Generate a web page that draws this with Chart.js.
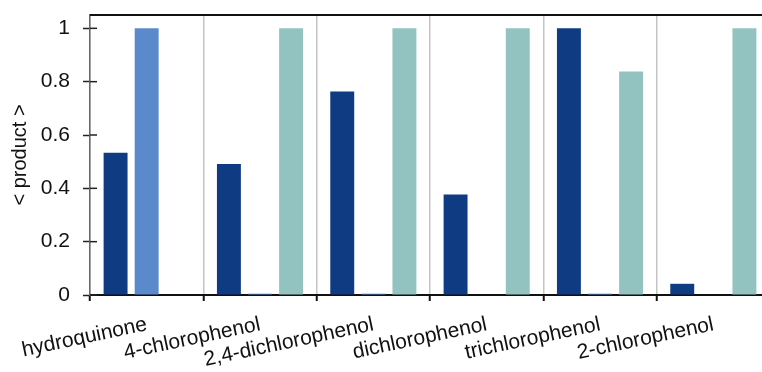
<!DOCTYPE html>
<html>
<head>
<meta charset="utf-8">
<script src="https://cdn.jsdelivr.net/npm/chart.js@4/dist/chart.umd.min.js"></script>
<style>
  html, body { margin: 0; padding: 0; background: #fff; overflow: hidden; }
  #wrap { width: 770px; height: 372px; }
</style>
</head>
<body>
<div id="wrap"><canvas id="chart" width="770" height="372"></canvas></div>
<script>
// categories and values
const categories = ['hydroquinone', '4-chlorophenol', '2,4-dichlorophenol', 'dichlorophenol', 'trichlorophenol', '2-chlorophenol'];
const seriesA = [0.533, 0.491, 0.763, 0.377, 1.0, 0.042];
const seriesB = [1.0, 0.005, 0.005, 0, 0.005, 0];
const seriesC = [0, 1.0, 1.0, 1.0, 0.838, 1.0];
const yTicks = [0, 0.2, 0.4, 0.6, 0.8, 1];

// top border + small inward tick marks on the y axis
const framePlugin = {
  id: 'frame',
  afterDraw(chart) {
    const { ctx, chartArea } = chart;
    const y = chart.scales.y;
    ctx.save();
    ctx.strokeStyle = '#111';
    ctx.lineWidth = 2;
    ctx.beginPath();
    ctx.moveTo(chartArea.left, chartArea.top);
    ctx.lineTo(chartArea.right, chartArea.top);
    ctx.stroke();
    ctx.lineWidth = 1.5;
    ctx.strokeStyle = '#222';
    y.ticks.forEach(t => {
      const py = y.getPixelForValue(t.value);
      ctx.beginPath();
      ctx.moveTo(chartArea.left, py);
      ctx.lineTo(chartArea.left + 7, py);
      ctx.stroke();
    });
    ctx.restore();
  }
};

new Chart(document.getElementById('chart'), {
  type: 'bar',
  data: {
    labels: categories,
    datasets: [
      { data: seriesA, backgroundColor: '#0e3b82' },
      { data: seriesB, backgroundColor: '#5a8acb' },
      { data: seriesC, backgroundColor: '#93c3c0' }
    ]
  },
  options: {
    responsive: false,
    animation: false,
    devicePixelRatio: 1,
    layout: { padding: { top: 15, left: 0, right: 0, bottom: 0 } },
    categoryPercentage: 0.823,
    barPercentage: 0.77,
    plugins: { legend: { display: false }, tooltip: { enabled: false } },
    scales: {
      x: {
        afterFit(scale) {
          scale.height = 77;
          scale.paddingLeft = 0;
          scale.paddingRight = 0;
        },
        grid: { offset: true, color: '#c4c4c4', lineWidth: 1.5, tickLength: 6, tickColor: '#111', tickWidth: 2 },
        border: { color: '#111', width: 2 },
        ticks: {
          autoSkip: false, minRotation: 12, maxRotation: 12, padding: 11,
          color: '#111', font: { family: 'Liberation Sans, Arial, sans-serif', size: 21 }
        }
      },
      y: {
        min: 0,
        max: 1.05,
        afterBuildTicks(scale) { scale.ticks = yTicks.map(v => ({ value: v })); },
        afterFit(scale) {
          scale.width = 90;
          scale.paddingTop = 0;
          scale.paddingBottom = 0;
        },
        grid: { drawOnChartArea: false, tickLength: 7, tickColor: '#222', tickWidth: 1.5 },
        border: { color: '#666', width: 1.5 },
        ticks: {
          padding: 13, color: '#111',
          font: { family: 'Liberation Sans, Arial, sans-serif', size: 21 },
          callback: v => String(v)
        },
        title: {
          display: true, text: '< product >', color: '#111', padding: { top: 8, bottom: 0 },
          font: { family: 'Liberation Sans, Arial, sans-serif', size: 20 }
        }
      }
    }
  },
  plugins: [framePlugin]
});
</script>
</body>
</html>
